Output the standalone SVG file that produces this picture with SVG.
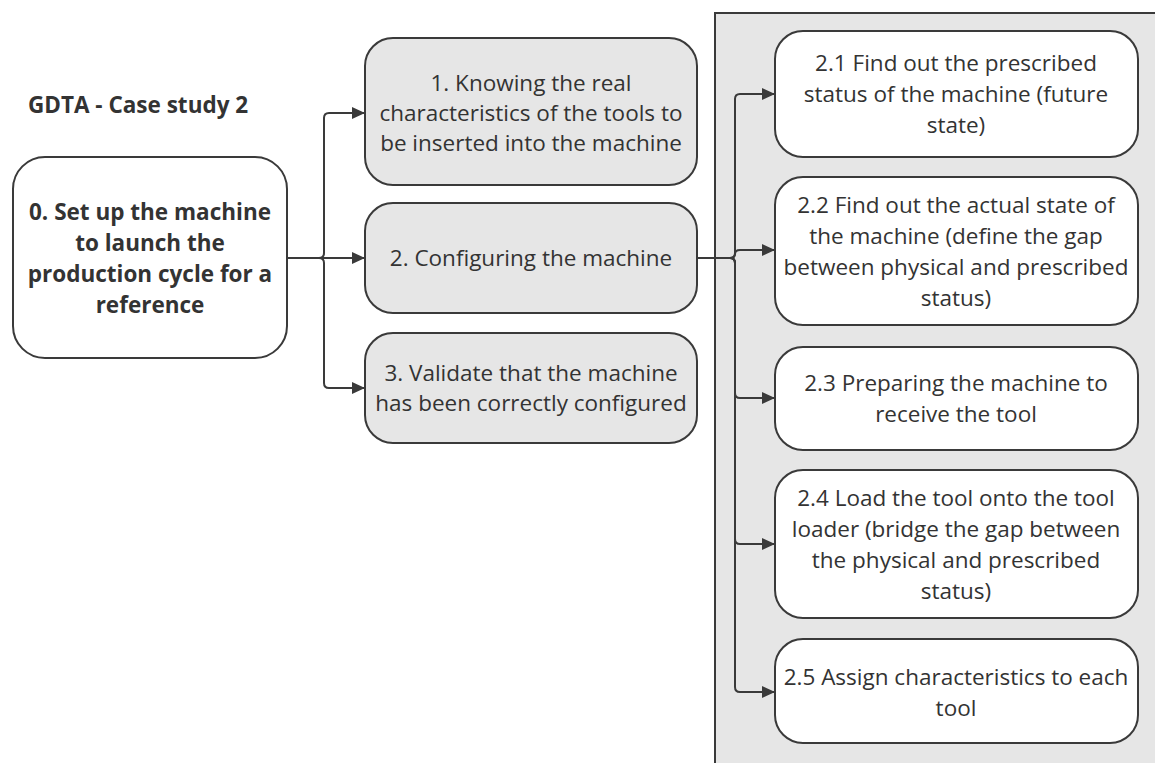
<svg xmlns="http://www.w3.org/2000/svg" width="1155" height="763" viewBox="0 0 1155 763">
<style>
text{font-family:"Open Sans","Noto Sans","Liberation Sans",sans-serif;font-size:22.5px;fill:#333;text-anchor:middle}
.b{font-weight:700}
.n{stroke:#3a3a3a;stroke-width:2}
.g{fill:#e6e6e6}
.w{fill:#fff}
.c{fill:none;stroke:#3a3a3a;stroke-width:2}
</style>
<defs>
<marker id="ah" markerWidth="14" markerHeight="14" refX="12" refY="7" orient="auto" markerUnits="userSpaceOnUse">
<path d="M0,1 L13,7 L0,13 Z" fill="#3a3a3a"/>
</marker>
</defs>
<rect width="1155" height="763" fill="#fff"/>
<rect id="panel" x="715" y="13" width="460" height="770" class="n g"/>
<text class="b" x="28" y="113" style="text-anchor:start">GDTA - Case study 2</text>
<g id="connectors">
<path class="c" marker-end="url(#ah)" d="M287,258 H319 Q324,258 324,253 V118 Q324,113 329,113 H364"/>
<path class="c" marker-end="url(#ah)" d="M287,258 H364"/>
<path class="c" marker-end="url(#ah)" d="M287,258 H319 Q324,258 324,263 V383 Q324,388 329,388 H364"/>
<path class="c" marker-end="url(#ah)" d="M697,258 H730 Q735,258 735,253 V99 Q735,94 740,94 H774"/>
<path class="c" marker-end="url(#ah)" d="M697,258 H730 Q735,258 735,254 Q735,250 740,250 H774"/>
<path class="c" marker-end="url(#ah)" d="M697,258 H730 Q735,258 735,263 V393 Q735,398 740,398 H774"/>
<path class="c" marker-end="url(#ah)" d="M697,258 H730 Q735,258 735,263 V539 Q735,544 740,544 H774"/>
<path class="c" marker-end="url(#ah)" d="M697,258 H730 Q735,258 735,263 V687 Q735,692 740,692 H774"/>
</g>
<g id="n0">
<rect x="13" y="157" width="274" height="201" rx="32" class="n w"/>
<text class="b" x="150" y="220">0. Set up the machine</text>
<text class="b" x="150" y="251">to launch the</text>
<text class="b" x="150" y="282">production cycle for a</text>
<text class="b" x="150" y="313">reference</text>
</g>
<g id="n1">
<rect x="365" y="38" width="332" height="147" rx="28" class="n g"/>
<text x="531" y="91">1. Knowing the real</text>
<text x="531" y="121">characteristics of the tools to</text>
<text x="531" y="151">be inserted into the machine</text>
</g>
<g id="n2">
<rect x="365" y="203" width="332" height="110" rx="28" class="n g"/>
<text x="531" y="266">2. Configuring the machine</text>
</g>
<g id="n3">
<rect x="365" y="333" width="332" height="110" rx="28" class="n g"/>
<text x="531" y="381">3. Validate that the machine</text>
<text x="531" y="411">has been correctly configured</text>
</g>
<g id="n21">
<rect x="775" y="31" width="363" height="126" rx="28" class="n w"/>
<text x="956" y="71">2.1 Find out the prescribed</text>
<text x="956" y="102">status of the machine (future</text>
<text x="956" y="133">state)</text>
</g>
<g id="n22">
<rect x="775" y="177" width="363" height="148" rx="28" class="n w"/>
<text x="956" y="213">2.2 Find out the actual state of</text>
<text x="956" y="244">the machine (define the gap</text>
<text x="956" y="275">between physical and prescribed</text>
<text x="956" y="306">status)</text>
</g>
<g id="n23">
<rect x="775" y="347" width="363" height="103" rx="28" class="n w"/>
<text x="956" y="391">2.3 Preparing the machine to</text>
<text x="956" y="422">receive the tool</text>
</g>
<g id="n24">
<rect x="775" y="470" width="363" height="148" rx="28" class="n w"/>
<text x="956" y="506">2.4 Load the tool onto the tool</text>
<text x="956" y="537">loader (bridge the gap between</text>
<text x="956" y="568">the physical and prescribed</text>
<text x="956" y="599">status)</text>
</g>
<g id="n25">
<rect x="775" y="639" width="363" height="104" rx="28" class="n w"/>
<text x="956" y="685">2.5 Assign characteristics to each</text>
<text x="956" y="716">tool</text>
</g>
</svg>
